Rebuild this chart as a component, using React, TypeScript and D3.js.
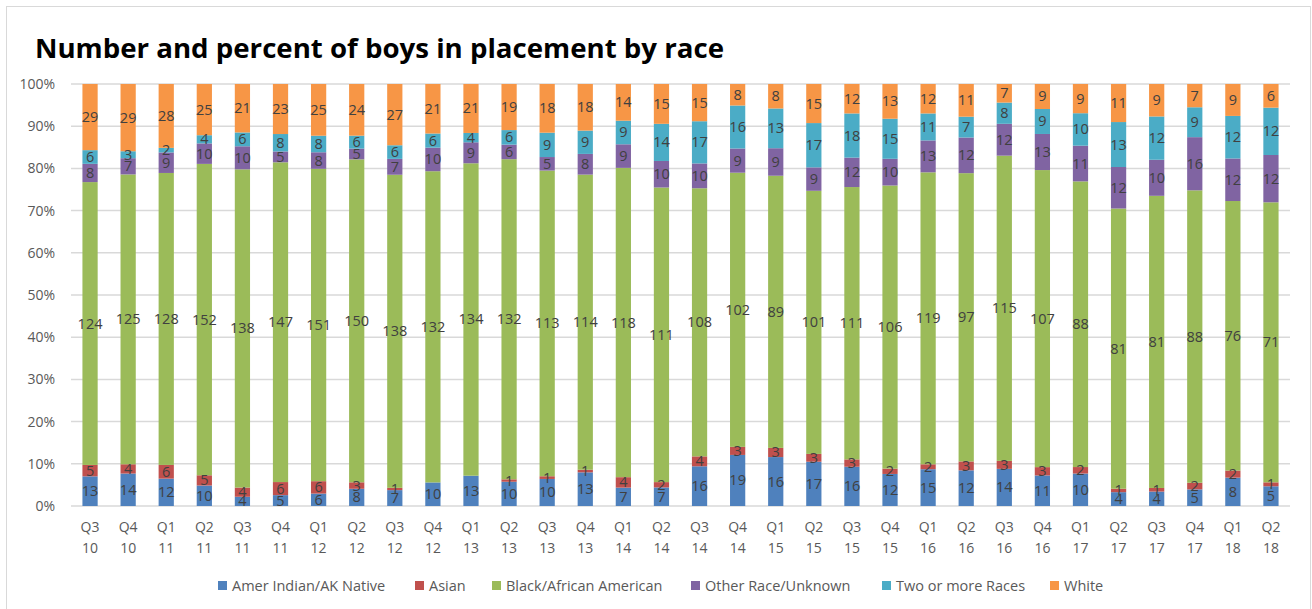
import React, { useEffect, useRef } from 'react'
import * as d3 from 'd3'

const quarters = ['Q3 10', 'Q4 10', 'Q1 11', 'Q2 11', 'Q3 11', 'Q4 11', 'Q1 12', 'Q2 12', 'Q3 12', 'Q4 12',
    'Q1 13', 'Q2 13', 'Q3 13', 'Q4 13', 'Q1 14', 'Q2 14', 'Q3 14', 'Q4 14', 'Q1 15', 'Q2 15', 'Q3 15',
    'Q4 15', 'Q1 16', 'Q2 16', 'Q3 16', 'Q4 16', 'Q1 17', 'Q2 17', 'Q3 17', 'Q4 17', 'Q1 18', 'Q2 18']

const amerIndian = [13, 14, 12, 10, 4, 5, 6, 8, 7, 10, 13, 10, 10, 13, 7, 7, 16, 19, 16, 17, 16, 12, 15, 12, 14, 11, 10, 4, 4, 5, 8, 5]
const asian = [5, 4, 6, 5, 4, 6, 6, 3, 1, 0, 0, 1, 1, 1, 4, 2, 4, 3, 3, 3, 3, 2, 2, 3, 3, 3, 2, 1, 1, 2, 2, 1]
const black = [124, 125, 128, 152, 138, 147, 151, 150, 138, 132, 134, 132, 113, 114, 118, 111, 108, 102, 89, 101, 111, 106, 119, 97, 115, 107, 88, 81, 81, 88, 76, 71]
const other = [8, 7, 9, 10, 10, 5, 8, 5, 7, 10, 9, 6, 5, 8, 9, 10, 10, 9, 9, 9, 12, 10, 13, 12, 12, 13, 11, 12, 10, 16, 12, 12]
const twoOrMore = [6, 3, 2, 4, 6, 8, 8, 6, 6, 6, 4, 6, 9, 9, 9, 14, 17, 16, 13, 17, 18, 15, 11, 7, 8, 9, 10, 13, 12, 9, 12, 12]
const white = [29, 29, 28, 25, 21, 23, 25, 24, 27, 21, 21, 19, 18, 18, 14, 15, 15, 8, 8, 15, 12, 13, 12, 11, 7, 9, 9, 11, 9, 7, 9, 6]

const seriesNames = ['Amer Indian/AK Native', 'Asian', 'Black/African American', 'Other Race/Unknown', 'Two or more Races', 'White']
const seriesValues = [amerIndian, asian, black, other, twoOrMore, white]
const colors = ['#4f81bd', '#c0504d', '#9bbb59', '#8064a2', '#4bacc6', '#f79646']
const yTicks = [0, 0.1, 0.2, 0.3, 0.4, 0.5, 0.6, 0.7, 0.8, 0.9, 1]

export default function App() {
    const ref = useRef<SVGSVGElement>(null)

    let width = 1312, height = 609
    let left = 71, right = 1290, top = 84, bottom = 506
    let font = '"Open Sans", "Liberation Sans", sans-serif'

    function drawChart() {
        const svg = d3.select(ref.current)
        svg.selectAll('*').remove()

        svg.append('rect')
            .attr('x', 6.5).attr('y', 6.5)
            .attr('width', width - 8).attr('height', height)
            .attr('fill', 'white')
            .attr('stroke', '#d9d9d9')

        svg.append('text')
            .attr('x', 35)
            .attr('y', 58)
            .text('Number and percent of boys in placement by race')
            .attr('textLength', 689)
            .attr('lengthAdjust', 'spacingAndGlyphs')
            .style('font-family', font)
            .style('font-weight', 'bold')
            .style('font-size', '27px')
            .attr('fill', '#000')

        let rows = quarters.map(function (q, i) {
            let row: any = { quarter: q }
            seriesNames.forEach(function (s, j) { row[s] = seriesValues[j][i] })
            return row
        })

        let stacked = d3.stack()
            .keys(seriesNames)
            .offset(d3.stackOffsetExpand)(rows)

        let x = d3.scaleBand()
            .domain(quarters)
            .range([left, right])
            .paddingInner(0.6)
            .paddingOuter(0.3)

        let y = d3.scaleLinear()
            .domain([0, 1])
            .range([bottom, top])

        // gridlines
        svg.append('g')
            .selectAll('line')
            .data(yTicks)
            .enter()
            .append('line')
            .attr('x1', left)
            .attr('x2', right)
            .attr('y1', function (d) { return y(d) })
            .attr('y2', function (d) { return y(d) })
            .attr('stroke', '#d9d9d9')
            .attr('stroke-width', 1.5)

        svg.append('g')
            .selectAll('text')
            .data(yTicks)
            .enter()
            .append('text')
            .attr('x', 55)
            .attr('y', function (d) { return y(d) + 5 })
            .attr('text-anchor', 'end')
            .text(function (d) { return Math.round(d * 100) + '%' })
            .style('font-family', font)
            .style('font-size', '14px')
            .attr('fill', '#595959')

        // bars
        let groups = svg.append('g')
            .selectAll('g')
            .data(stacked)
            .enter()
            .append('g')
            .attr('fill', function (d, i) { return colors[i] })

        groups.selectAll('rect')
            .data(function (d) { return d })
            .enter()
            .append('rect')
            .attr('x', function (d: any) { return x(d.data.quarter) as number })
            .attr('width', x.bandwidth())
            .attr('y', function (d: any) { return y(d[1]) })
            .attr('height', function (d: any) { return y(d[0]) - y(d[1]) })

        // data labels, centred in each segment (zero counts have no label)
        stacked.forEach(function (s, j) {
            svg.append('g')
                .selectAll('text')
                .data(s.filter(function (d: any) { return d.data[s.key] > 0 }))
                .enter()
                .append('text')
                .attr('x', function (d: any) { return (x(d.data.quarter) as number) + x.bandwidth() / 2 })
                .attr('y', function (d: any) { return (y(d[0]) + y(d[1])) / 2 + 5 })
                .attr('text-anchor', 'middle')
                .text(function (d: any) { return d.data[s.key] })
                .style('font-family', font)
                .style('font-size', '14.5px')
                .attr('fill', '#404040')
        })

        // x axis labels
        let xl = svg.append('g')
            .selectAll('text')
            .data(quarters)
            .enter()
            .append('text')
            .attr('text-anchor', 'middle')
            .style('font-family', font)
            .style('font-size', '14px')
            .attr('fill', '#595959')

        xl.append('tspan')
            .attr('x', function (d) { return (x(d) as number) + x.bandwidth() / 2 })
            .attr('y', 532)
            .text(function (d) { return d.split(' ')[0] })
        xl.append('tspan')
            .attr('x', function (d) { return (x(d) as number) + x.bandwidth() / 2 })
            .attr('y', 553)
            .text(function (d) { return d.split(' ')[1] })

        // legend
        let legendX = [218, 415, 492, 691, 882, 1050]
        let legend = svg.append('g')
            .selectAll('g')
            .data(seriesNames)
            .enter()
            .append('g')
            .attr('transform', function (d, i) { return 'translate(' + legendX[i] + ', 581)' })

        legend.append('rect')
            .attr('width', 9)
            .attr('height', 9)
            .attr('fill', function (d, i) { return colors[i] })

        legend.append('text')
            .attr('x', 14)
            .attr('y', 9.5)
            .text(function (d) { return d })
            .style('font-family', font)
            .style('font-size', '14.5px')
            .attr('fill', '#595959')
    }

    useEffect(() => {
        drawChart()
    }, [])

    return (
        <svg ref={ref} width={width} height={height}
            style={{ position: 'absolute', left: 0, top: 0, background: 'white' }} />
    )
}
